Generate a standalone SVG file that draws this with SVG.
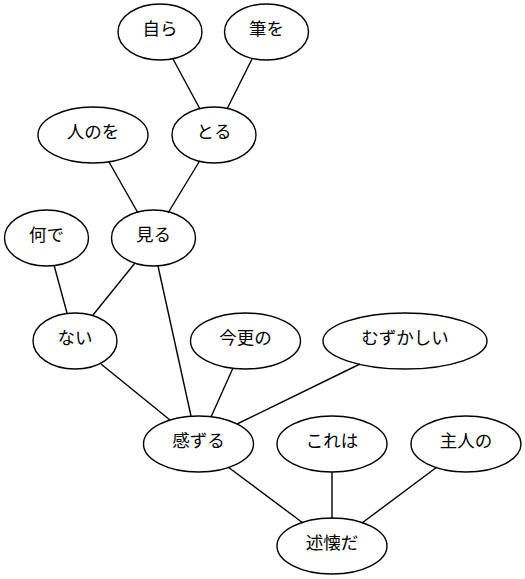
<svg xmlns="http://www.w3.org/2000/svg" width="525" height="579" viewBox="0 0 525 579">
  <style>
    .node ellipse { fill: none; stroke: #000; stroke-width: 1.4; }
    .node text { font-family: "Liberation Serif", "Noto Sans CJK JP", serif; font-size: 17.5px; fill: #000; text-anchor: middle; }
    #edges line { stroke: #000; stroke-width: 1.4; }
  </style>
  <rect width="525" height="579" fill="#fff"/>
  <g id="edges">
    <line x1="173" y1="59" x2="200" y2="109"/>
    <line x1="252" y1="59" x2="227" y2="109"/>
    <line x1="109" y1="162" x2="138" y2="213"/>
    <line x1="199" y1="162" x2="168" y2="213"/>
    <line x1="54" y1="265" x2="67" y2="313"/>
    <line x1="135" y1="263" x2="93" y2="315"/>
    <line x1="158" y1="266" x2="191" y2="416"/>
    <line x1="101" y1="364" x2="170" y2="420"/>
    <line x1="233" y1="368" x2="211" y2="417"/>
    <line x1="360" y1="364" x2="237" y2="424"/>
    <line x1="228" y1="467" x2="303" y2="523"/>
    <line x1="332" y1="472" x2="332" y2="519"/>
    <line x1="437" y1="467" x2="362" y2="523"/>
  </g>
  <g id="n_jira" class="node"><ellipse cx="160" cy="32" rx="42" ry="28"/><text x="160" y="35">自ら</text></g>
  <g id="n_fudewo" class="node"><ellipse cx="266.5" cy="32" rx="42" ry="28"/><text x="266.5" y="35">筆を</text></g>
  <g id="n_hitonowo" class="node"><ellipse cx="93" cy="135" rx="55" ry="28"/><text x="93" y="138">人のを</text></g>
  <g id="n_toru" class="node"><ellipse cx="214" cy="135" rx="42" ry="28"/><text x="214" y="138">とる</text></g>
  <g id="n_nande" class="node"><ellipse cx="46.5" cy="238" rx="42" ry="28"/><text x="46.5" y="241">何で</text></g>
  <g id="n_miru" class="node"><ellipse cx="153.5" cy="238" rx="42" ry="28"/><text x="153.5" y="241">見る</text></g>
  <g id="n_nai" class="node"><ellipse cx="75" cy="341" rx="42" ry="28"/><text x="75" y="344">ない</text></g>
  <g id="n_imasarano" class="node"><ellipse cx="245.5" cy="341" rx="55" ry="28"/><text x="245.5" y="344">今更の</text></g>
  <g id="n_muzukashii" class="node"><ellipse cx="405" cy="341" rx="82" ry="28"/><text x="405" y="344">むずかしい</text></g>
  <g id="n_kanzuru" class="node"><ellipse cx="198.5" cy="444" rx="55" ry="28"/><text x="198.5" y="447">感ずる</text></g>
  <g id="n_koreha" class="node"><ellipse cx="332" cy="444" rx="55" ry="28"/><text x="332" y="447">これは</text></g>
  <g id="n_shujinno" class="node"><ellipse cx="466" cy="444" rx="55" ry="28"/><text x="466" y="447">主人の</text></g>
  <g id="n_jukaida" class="node"><ellipse cx="332" cy="546" rx="55" ry="28"/><text x="332" y="549">述懐だ</text></g>
</svg>
